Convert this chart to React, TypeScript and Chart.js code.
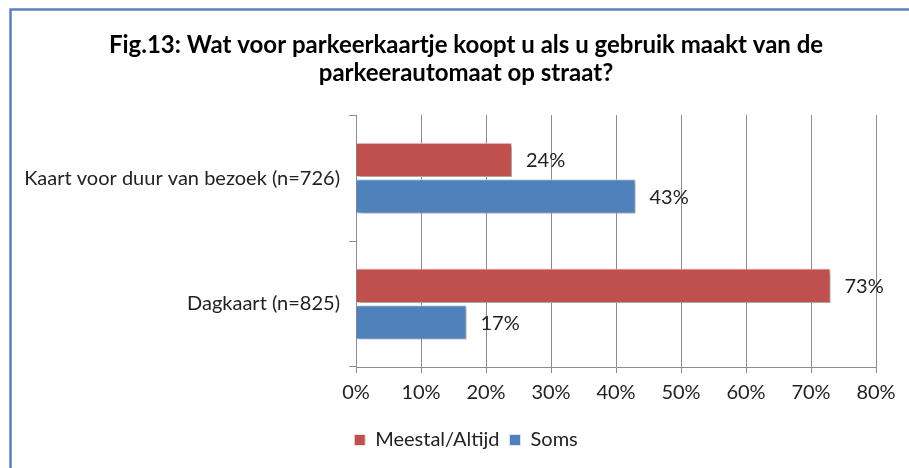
import React, { useEffect, useRef } from "react";
import { Chart, registerables } from "chart.js";

Chart.register(...registerables);

const titleLines = [
  "Fig.13: Wat voor parkeerkaartje koopt u als u gebruik maakt van de",
  "parkeerautomaat op straat?",
];
const categories = ["Kaart voor duur van bezoek (n=726)", "Dagkaart (n=825)"];
const seriesNames = ["Meestal/Altijd", "Soms"];
const meestalValues = [24, 73];
const somsValues = [43, 17];
const seriesColors = ["#C0504D", "#4F81BD"];
const xMax = 80;
const xStep = 10;

const FONT = "Lato, 'Open Sans', sans-serif";

const framePlugin = {
  id: "frame",
  beforeDraw(chart: any) {
    const ctx = chart.ctx;
    ctx.save();
    ctx.fillStyle = "#ffffff";
    ctx.fillRect(0, 0, chart.width, chart.height);
    ctx.strokeStyle = "#5B82BC";
    ctx.lineWidth = 2.5;
    ctx.beginPath();
    ctx.moveTo(10.5, chart.height + 2);
    ctx.lineTo(10.5, 9.5);
    ctx.lineTo(chart.width + 2, 9.5);
    ctx.stroke();
    ctx.restore();
  },
};

// let the category labels use the space left of the axis box (avoid clipping)
const widenLabelAreaPlugin = {
  id: "widenLabelArea",
  afterLayout(chart: any) {
    const y = chart.scales.y;
    if (y) y.left = 12;
  },
};

const shadowPlugin = {
  id: "barShadow",
  beforeDatasetsDraw(chart: any) {
    const ctx = chart.ctx;
    ctx.save();
    ctx.shadowColor = "rgba(0,0,0,0.35)";
    ctx.shadowBlur = 4;
    ctx.shadowOffsetX = 2;
    ctx.shadowOffsetY = 2;
  },
  afterDatasetsDraw(chart: any) {
    chart.ctx.restore();
  },
};

const labelPlugin = {
  id: "valueLabels",
  afterDraw(chart: any) {
    const ctx = chart.ctx;
    ctx.save();
    ctx.font = `20px ${FONT}`;
    ctx.fillStyle = "#222222";
    ctx.textAlign = "left";
    ctx.textBaseline = "middle";
    chart.data.datasets.forEach((ds: any, di: number) => {
      const meta = chart.getDatasetMeta(di);
      meta.data.forEach((bar: any, i: number) => {
        ctx.fillText(`${ds.data[i]}%`, bar.x + 14, bar.y + 1);
      });
    });
    ctx.restore();
  },
};

export default function App() {
  const ref = useRef<HTMLCanvasElement>(null);
  useEffect(() => {
    if (!ref.current) return;
    const chart = new Chart(ref.current, {
      type: "bar",
      data: {
        labels: categories,
        datasets: [
          {
            label: seriesNames[0],
            data: meestalValues,
            backgroundColor: seriesColors[0],
            borderColor: "#F2DCDB",
            borderWidth: 1,
            categoryPercentage: 0.58,
            barPercentage: 0.94,
          },
          {
            label: seriesNames[1],
            data: somsValues,
            backgroundColor: seriesColors[1],
            borderColor: "#DCE6F2",
            borderWidth: 1,
            categoryPercentage: 0.58,
            barPercentage: 0.94,
          },
        ],
      },
      options: {
        indexAxis: "y",
        animation: false,
        responsive: false,
        maintainAspectRatio: false,
        layout: { padding: { left: 56, right: 33, top: 0, bottom: 8 } },
        scales: {
          x: {
            min: 0,
            max: xMax,
            ticks: {
              stepSize: xStep,
              callback: (v: any) => `${v}%`,
              font: { family: FONT, size: 20 },
              color: "#222222",
              padding: 8,
            },
            grid: {
              color: "#8C8C8C",
              lineWidth: 1,
              tickLength: 6,
              drawTicks: true,
            },
            border: { color: "#8C8C8C", width: 1 },
            afterFit: (s: any) => {
              s.height = 53;
            },
          },
          y: {
            ticks: {
              font: { family: FONT, size: 20 },
              color: "#222222",
              padding: 9,
            },
            grid: {
              offset: true,
              drawOnChartArea: false,
              color: "#8C8C8C",
              tickLength: 7,
            },
            border: { color: "#8C8C8C", width: 1 },
            afterFit: (s: any) => {
              s.width = 300;
            },
          },
        },
        plugins: {
          title: {
            display: true,
            text: titleLines,
            font: { family: FONT, size: 24, weight: "bold", lineHeight: 1.17 },
            color: "#000000",
            padding: { top: 31, bottom: 28 },
          },
          legend: {
            position: "bottom",
            labels: {
              boxWidth: 11,
              boxHeight: 11,
              font: { family: FONT, size: 20 },
              color: "#222222",
              padding: 10,
              useBorderRadius: false,
            },
          },
          tooltip: { enabled: false },
        },
      },
      plugins: [framePlugin, widenLabelAreaPlugin, shadowPlugin, labelPlugin],
    });
    return () => chart.destroy();
  }, []);
  return (
    <div style={{ position: "fixed", left: 0, top: 0, width: 909, height: 468 }}>
      <canvas ref={ref} width={909} height={468} style={{ display: "block" }} />
    </div>
  );
}
